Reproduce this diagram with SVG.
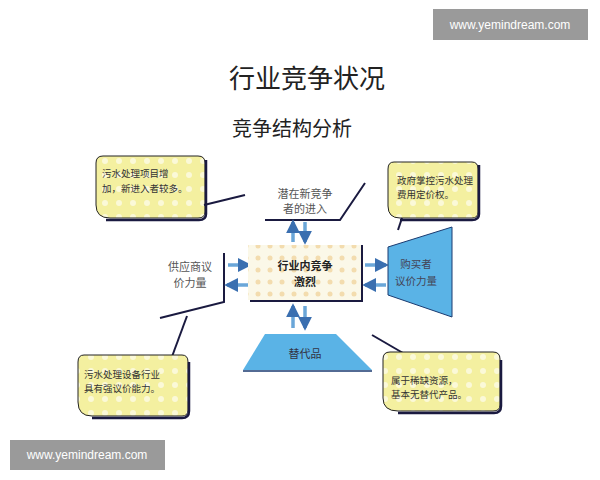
<svg xmlns="http://www.w3.org/2000/svg" width="600" height="480" viewBox="0 0 600 480">
<defs>
<pattern id="dots" width="12" height="12" patternUnits="userSpaceOnUse"><rect width="12" height="12" fill="#fbf8e8"/><circle cx="6" cy="6" r="2.5" fill="#f3dcae"/></pattern>
<pattern id="ydots" width="14" height="14" patternUnits="userSpaceOnUse"><rect width="14" height="14" fill="#f4f0a0"/><circle cx="7" cy="7" r="3" fill="#fbf9d8"/></pattern>
<marker id="ah" viewBox="0 0 10 10" refX="8" refY="5" markerWidth="4" markerHeight="4" orient="auto"><path d="M0,0L10,5L0,10z" fill="#3a6fb0"/></marker>
</defs>
<style>
text{font-family:"Noto Sans CJK SC","Noto Sans",sans-serif;}
.t{font-size:11px;fill:#555;text-anchor:middle}
.c{font-size:9.5px;fill:#333}
.bub{fill:url(#ydots);stroke:#222;stroke-width:1}
.sh{fill:none;stroke:#1a1a40;stroke-width:2.5}
.ln{fill:none;stroke:#1a1a40;stroke-width:2}
.ar{stroke:#6aa6d8;stroke-width:3.5;marker-end:url(#ah)}
.blue{fill:#5ab3e6;stroke:#1a3a70;stroke-width:1}
.wm{font-family:"Liberation Sans",sans-serif;font-size:12px;fill:#fff}
</style>
<rect width="600" height="480" fill="#fff"/>
<text x="307" y="88" style="font-size:26px;fill:#222;text-anchor:middle">行业竞争状况</text>
<text x="292" y="136" style="font-size:20px;fill:#222;text-anchor:middle">竞争结构分析</text>

<g id="connectors">
<path class="ln" d="M265,220H340L365,183"/>
<path class="ln" d="M224,253V302L160,318"/>
<path class="ln" d="M187,316L170,362"/>
<path class="ln" d="M372,335L403,353"/>
<line class="ar" x1="293" y1="242" x2="293" y2="222"/>
<line class="ar" x1="305" y1="222" x2="305" y2="242"/>
<line class="ar" x1="293" y1="328" x2="293" y2="306"/>
<line class="ar" x1="305" y1="306" x2="305" y2="328"/>
<line class="ar" x1="228" y1="265" x2="249" y2="265"/>
<line class="ar" x1="248" y1="285" x2="227" y2="285"/>
<line class="ar" x1="365" y1="265" x2="386" y2="265"/>
<line class="ar" x1="386" y1="285" x2="365" y2="285"/>
</g>

<g id="callout-entry">
<path class="bub" d="M103,156H198Q205,156 205,163V212Q205,218 198,218H110Q96,218 96,205V163Q96,156 103,156Z"/>
<path class="sh" d="M206,160V214Q206,220 199,220H106"/>
<path class="ln" d="M204,205L245,195"/>
<text class="c" x="102" y="177">污水处理项目增</text>
<text class="c" x="102" y="192">加，新进入者较多。</text>
</g>
<g id="entrants"><text class="t" x="305" y="198">潜在新竞争</text><text class="t" x="305" y="213">者的进入</text></g>
<g id="callout-gov">
<path class="bub" d="M394,162H472Q478,162 478,169V212Q478,218 472,218H400Q388,218 388,206V169Q388,162 394,162Z"/>
<path class="sh" d="M479,165V214Q479,220 472,220H400"/>
<path class="ln" d="M402,218L398,230"/>
<text class="c" x="397" y="184">政府掌控污水处理</text>
<text class="c" x="397" y="198">费用定价权。</text>
</g>
<g id="rivalry">
<rect x="248" y="245" width="114" height="55" fill="url(#dots)"/>
<path class="ln" d="M362,245V301H250"/>
<text x="305" y="270" style="font-size:11px;font-weight:bold;fill:#222;text-anchor:middle">行业内竞争</text>
<text x="305" y="286" style="font-size:11px;font-weight:bold;fill:#222;text-anchor:middle">激烈</text>
</g>
<g id="suppliers"><text class="t" x="190" y="271">供应商议</text><text class="t" x="190" y="287">价力量</text></g>
<g id="buyers">
<polygon class="blue" points="388,247 452,227 452,317 388,295"/>
<text class="t" x="416" y="268" style="fill:#445;font-size:10.5px">购买者</text><text class="t" x="416" y="285" style="fill:#445;font-size:10.5px">议价力量</text>
</g>
<g id="substitutes">
<polygon class="blue" points="265,334 336,334 372,370 243,370" style="stroke:none"/>
<line x1="243" y1="371" x2="372" y2="371" stroke="#1a3a70" stroke-width="1.5"/>
<text class="t" x="305" y="358" style="fill:#334">替代品</text>
</g>
<g id="callout-equip">
<path class="bub" d="M84,355H182Q188,355 188,362V410Q188,416 182,416H92Q78,416 78,402V362Q78,355 84,355Z"/>
<path class="sh" d="M189,362V411Q189,418 182,418H92"/>
<text class="c" x="84" y="378">污水处理设备行业</text>
<text class="c" x="84" y="392">具有强议价能力。</text>
</g>
<g id="callout-scarce">
<path class="bub" d="M390,352H493Q500,352 500,359V405Q500,411 493,411H398Q383,411 383,398V359Q383,352 390,352Z"/>
<path class="sh" d="M501,360V406Q501,413 494,413H398"/>
<text class="c" x="391" y="384">属于稀缺资源，</text>
<text class="c" x="391" y="398">基本无替代产品。</text>
</g>
<g id="watermarks">
<rect x="433" y="9" width="155" height="31" fill="#9a9a9a"/>
<text class="wm" x="510" y="29" text-anchor="middle">www.yemindream.com</text>
<rect x="10" y="440" width="155" height="30" fill="#9a9a9a"/>
<text class="wm" x="87" y="459" text-anchor="middle">www.yemindream.com</text>
</g>
</svg>
